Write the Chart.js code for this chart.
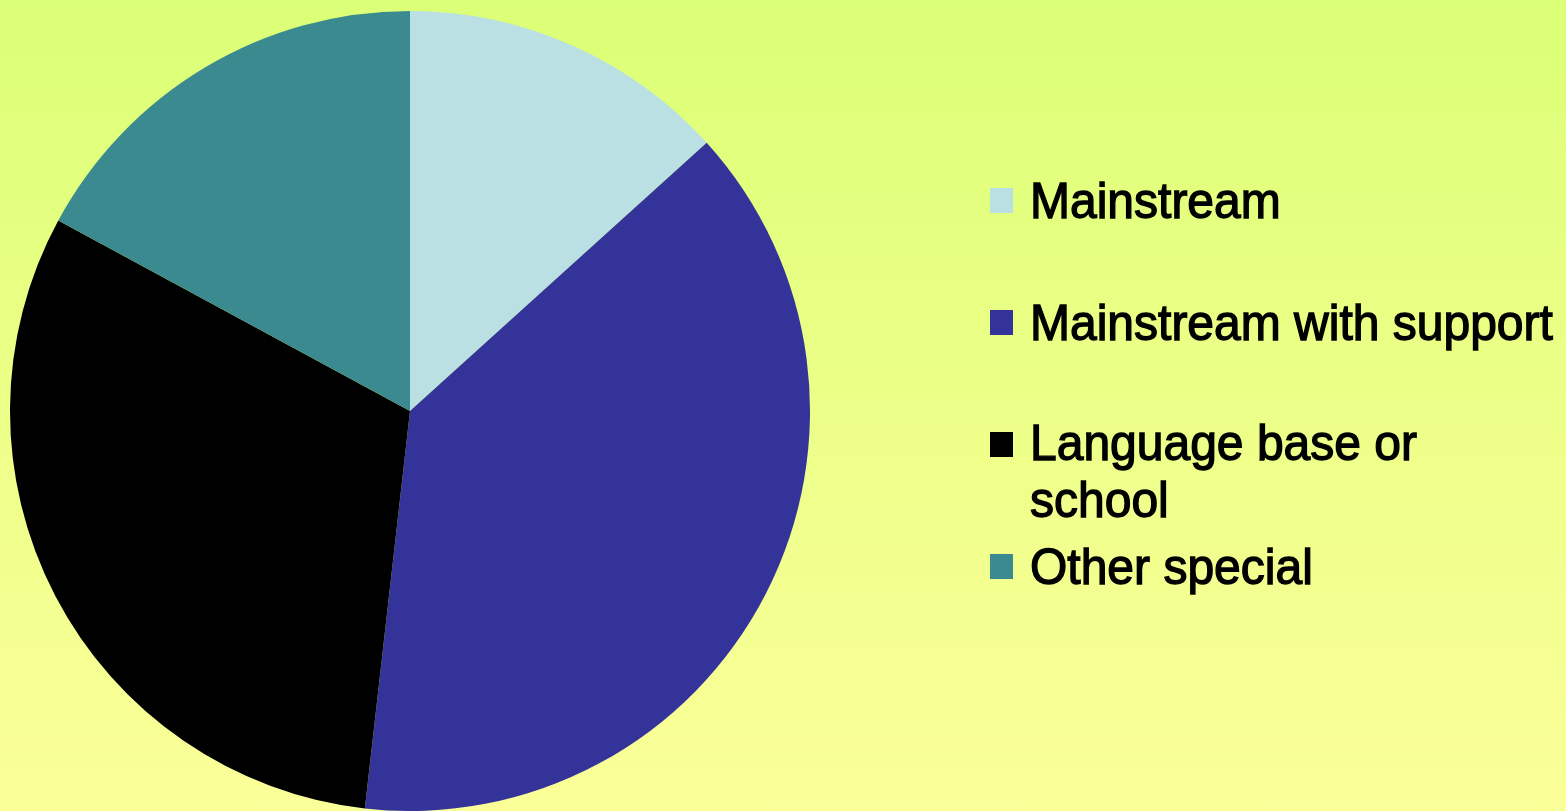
<!DOCTYPE html>
<html>
<head>
<meta charset="utf-8">
<script src="https://cdn.jsdelivr.net/npm/chart.js@4.4.1/dist/chart.umd.min.js"></script>
<style>
    html, body { margin: 0; padding: 0; width: 1566px; height: 811px; overflow: hidden; }
    body { background: linear-gradient(to bottom, #dbff76 0%, #ecff88 50%, #fbff99 100%); position: relative; }
    #pie { position: absolute; left: 0; top: 0; }
    .legend-row { position: absolute; left: 990px; }
    .legend-box { position: absolute; left: 0; width: 23px; height: 25px; }
    .legend-text {
        position: absolute; left: 40px; white-space: pre; color: #000;
        font-family: 'Liberation Sans', Arial, sans-serif; font-size: 48px; line-height: 55px;
        -webkit-text-stroke: 1.3px #000;
        transform: scaleY(1.05); transform-origin: left bottom;
    }
</style>
</head>
<body>
<canvas id="pie" width="820" height="811"></canvas>
<div id="legend"></div>
<script>
const categories = ['Mainstream', 'Mainstream with support', 'Language base or\nschool', 'Other special'];
const shares     = [13.3, 38.5, 31.1, 17.1];
const colors     = ['#bbe0e3', '#333399', '#000000', '#3b8a8f'];

new Chart(document.getElementById('pie'), {
    type: 'pie',
    data: {
        labels: categories,
        datasets: [{
            data: shares,
            backgroundColor: colors,
            borderWidth: 0,
        }]
    },
    options: {
        responsive: false,
        animation: false,
        layout: { padding: { left: 10, right: 10, top: 11, bottom: 0 } },
        plugins: {
            legend: { display: false },
            tooltip: { enabled: false },
        }
    }
});

// legend on the right, one row per slice
const legend = document.getElementById('legend');
categories.forEach((name, i) => {
    const row = document.createElement('div');
    row.className = 'legend-row';
    row.style.top = (175 + i * 122) + 'px';

    const box = document.createElement('div');
    box.className = 'legend-box';
    box.style.top = '13px';
    box.style.background = colors[i];

    const txt = document.createElement('div');
    txt.className = 'legend-text';
    txt.style.top = '0px';
    txt.textContent = name;

    row.appendChild(box);
    row.appendChild(txt);
    legend.appendChild(row);
});
</script>
</body>
</html>
